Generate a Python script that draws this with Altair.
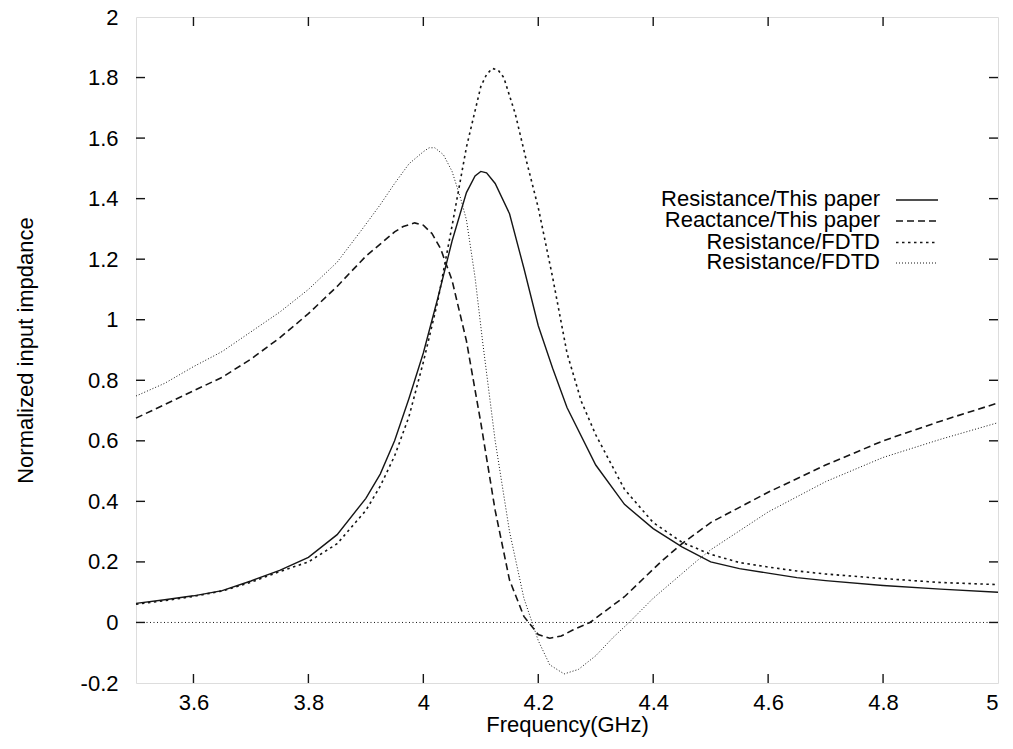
import altair as alt
import pandas as pd

FONT = "Liberation Sans"
INK = "#151515"

# ---- axis ticks ----
x_ticks = [3.6, 3.8, 4.0, 4.2, 4.4, 4.6, 4.8, 5.0]
y_ticks = [-0.2, 0, 0.2, 0.4, 0.6, 0.8, 1, 1.2, 1.4, 1.6, 1.8, 2]

# ---- Resistance / This paper (solid) ----
rp_f = [3.50, 3.55, 3.60, 3.65, 3.70, 3.75, 3.80, 3.85, 3.90, 3.925, 3.95, 3.975,
        4.00, 4.025, 4.05, 4.075, 4.09, 4.10, 4.11, 4.125, 4.15, 4.175, 4.20, 4.225, 4.25,
        4.30, 4.35, 4.40, 4.45, 4.50, 4.55, 4.60, 4.65, 4.70, 4.80, 4.90, 5.00]
rp_v = [0.063, 0.075, 0.088, 0.105, 0.137, 0.172, 0.215, 0.29, 0.41, 0.49, 0.60, 0.74,
        0.89, 1.07, 1.26, 1.42, 1.475, 1.49, 1.485, 1.45, 1.35, 1.17, 0.98, 0.84, 0.71,
        0.52, 0.39, 0.31, 0.25, 0.20, 0.178, 0.163, 0.148, 0.138, 0.122, 0.11, 0.10]

# ---- Reactance / This paper (dashed) ----
xp_f = [3.50, 3.55, 3.60, 3.65, 3.70, 3.75, 3.80, 3.85, 3.90, 3.925, 3.95, 3.965,
        3.985, 4.00, 4.015, 4.03, 4.05, 4.075, 4.10, 4.125, 4.15, 4.175, 4.20, 4.22,
        4.24, 4.26, 4.29, 4.35, 4.416, 4.45, 4.50, 4.60, 4.70, 4.80, 4.90, 5.00]
xp_v = [0.675, 0.72, 0.765, 0.81, 0.87, 0.94, 1.02, 1.11, 1.21, 1.25, 1.29, 1.308,
        1.32, 1.312, 1.285, 1.235, 1.13, 0.93, 0.66, 0.37, 0.14, 0.02, -0.04, -0.052,
        -0.045, -0.025, 0.0, 0.085, 0.205, 0.26, 0.33, 0.43, 0.52, 0.60, 0.665, 0.725]

# ---- Resistance / FDTD (short dashes) ----
rf_f = [3.50, 3.55, 3.60, 3.65, 3.70, 3.75, 3.80, 3.85, 3.90, 3.925, 3.95, 3.975,
        4.00, 4.025, 4.05, 4.075, 4.10, 4.11, 4.12, 4.13, 4.14, 4.16, 4.18, 4.20, 4.225, 4.25,
        4.275, 4.30, 4.35, 4.40, 4.45, 4.50, 4.55, 4.60, 4.65, 4.70, 4.80, 4.90, 5.00]
rf_v = [0.06, 0.072, 0.086, 0.104, 0.133, 0.168, 0.20, 0.26, 0.37, 0.45, 0.55, 0.68,
        0.86, 1.06, 1.31, 1.57, 1.77, 1.81, 1.83, 1.825, 1.80, 1.68, 1.52, 1.37, 1.14, 0.89,
        0.73, 0.62, 0.44, 0.33, 0.265, 0.225, 0.198, 0.183, 0.17, 0.16, 0.145, 0.132, 0.125]

# ---- second FDTD curve (fine dots) ----
xf_f = [3.50, 3.55, 3.60, 3.65, 3.70, 3.75, 3.80, 3.85, 3.894, 3.925, 3.95, 3.975,
        4.00, 4.01, 4.02, 4.035, 4.05, 4.065, 4.075, 4.09, 4.103, 4.125, 4.15, 4.175, 4.20,
        4.22, 4.245, 4.27, 4.30, 4.33, 4.358, 4.40, 4.477, 4.50, 4.60, 4.70, 4.80, 4.90, 5.00]
xf_v = [0.748, 0.79, 0.845, 0.895, 0.96, 1.025, 1.10, 1.19, 1.30, 1.38, 1.45, 1.515,
        1.555, 1.568, 1.568, 1.545, 1.49, 1.40, 1.33, 1.14, 0.93, 0.60, 0.30, 0.08, -0.06,
        -0.14, -0.17, -0.155, -0.11, -0.05, 0.0, 0.08, 0.205, 0.24, 0.365, 0.465, 0.545, 0.605, 0.66]

legend_labels = ["Resistance/This paper", "Reactance/This paper",
                 "Resistance/FDTD", "Resistance/FDTD"]

W, H = 862, 666

xs = alt.Scale(domain=[3.5, 5.0], nice=False, zero=False)
ys = alt.Scale(domain=[-0.2, 2.0], nice=False, zero=False)

common_axis = dict(grid=False, domain=False, ticks=False, labelFont=FONT, titleFont=FONT,
                   labelColor="#000", titleColor="#000", titleFontWeight="normal",
                   labelFontSize=22, titleFontSize=22, labelExpr="'' + datum.value")

x_axis = alt.Axis(values=x_ticks, labelPadding=9, title="Frequency(GHz)",
                  titleX=W / 2, titleY=41, titleBaseline="middle", **common_axis)
y_axis = alt.Axis(values=y_ticks, labelPadding=18, title="Normalized input impdance",
                  titleX=-111, titleY=H / 2, titleAngle=-90, titleBaseline="middle",
                  titleAlign="center", **common_axis)


def X(field):
    return alt.X(field, type="quantitative", scale=xs, axis=x_axis)


def Y(field):
    return alt.Y(field, type="quantitative", scale=ys, axis=y_axis)


styles = [
    dict(strokeWidth=1.4),
    dict(strokeWidth=1.6, strokeDash=[7, 4]),
    dict(strokeWidth=1.6, strokeDash=[2.5, 3.5]),
    dict(strokeWidth=1.0, strokeDash=[1, 2]),
]

series = [(rp_f, rp_v), (xp_f, xp_v), (rf_f, rf_v), (xf_f, xf_v)]

layers = []

# zero axis
zero_df = pd.DataFrame({"v": [0.0]})
layers.append(alt.Chart(zero_df).mark_rule(color=INK, strokeWidth=1.0, strokeDash=[1, 2.5])
              .encode(y=Y("v")))

for (f, v), st in zip(series, styles):
    df = pd.DataFrame({"freq": f, "val": v})
    layers.append(alt.Chart(df).mark_line(color=INK, **st).encode(x=X("freq"), y=Y("val")))

# inward ticks on all four sides
xt = pd.DataFrame({"t": x_ticks[:-1]})
yt = pd.DataFrame({"t": y_ticks[1:-1]})
tk = dict(color=INK, strokeWidth=1.4)
layers.append(alt.Chart(xt).mark_rule(**tk).encode(x=X("t"), y=alt.value(H), y2=alt.value(H - 9)))
layers.append(alt.Chart(xt).mark_rule(**tk).encode(x=X("t"), y=alt.value(0), y2=alt.value(9)))
layers.append(alt.Chart(yt).mark_rule(**tk).encode(y=Y("t"), x=alt.value(0), x2=alt.value(9)))
layers.append(alt.Chart(yt).mark_rule(**tk).encode(y=Y("t"), x=alt.value(W), x2=alt.value(W - 9)))

# in-plot legend (gnuplot style: label then line sample)
row_y = [182, 203, 224.5, 245]
for lab, st, ry in zip(legend_labels, styles, row_y):
    ldf = pd.DataFrame({"label": [lab]})
    layers.append(alt.Chart(ldf).mark_text(align="right", baseline="middle", font=FONT,
                                           fontSize=22, color="#000")
                  .encode(text="label:N", x=alt.value(744), y=alt.value(ry)))
    layers.append(alt.Chart(ldf).mark_rule(color=INK, **st)
                  .encode(x=alt.value(760), x2=alt.value(802), y=alt.value(ry + 1)))

chart = (
    alt.layer(*layers)
    .properties(width=W, height=H, autosize=alt.AutoSizeParams(type="none"),
                padding={"left": 136, "top": 17, "right": 15, "bottom": 66})
    .configure_view(stroke="#000", strokeWidth=1.6)
    .configure_axis(grid=False, domain=False, ticks=False, labelFont=FONT, titleFont=FONT,
                    labelColor="#000", titleColor="#000", titleFontWeight="normal")
    .configure(background="white")
)

chart.save("out.html", embed_options={"renderer": "svg", "actions": False})
